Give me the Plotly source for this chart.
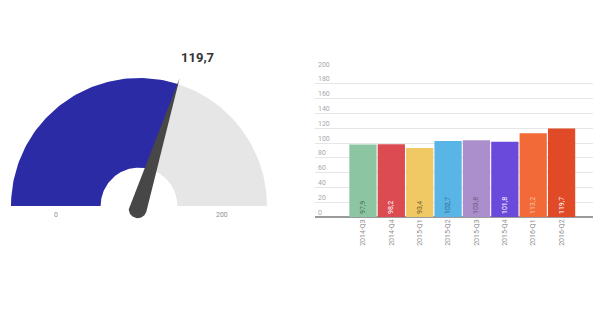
import math
import plotly.graph_objects as go

# ---- data ----
quarters = ["2014-Q3", "2014-Q4", "2015-Q1", "2015-Q2", "2015-Q3", "2015-Q4", "2016-Q1", "2016-Q2"]
values = [97.9, 98.2, 93.4, 102.7, 103.8, 101.8, 113.2, 119.7]
bar_colors = ["#8cc5a2", "#dc4a52", "#f1c964", "#58b5e6", "#ab8fcc", "#6a4adb", "#f26a37", "#e04a27"]
label_colors = ["#4f6e5a", "#ffffff", "#6b5a2a", "#2f6a8c", "#6b5a80", "#ffffff", "#f8c0a8", "#ffffff"]
y_ticks = [0, 20, 40, 60, 80, 100, 120, 140, 160, 180, 200]
gauge_value = 119.7
gauge_min, gauge_max = 0, 200

def fmt(v):
    return f"{v:.1f}".replace(".", ",")

fig = go.Figure()

# ---- gauge (cartesian, unit radius) ----
r_in, r_out = 0.30, 1.0
frac = (gauge_value - gauge_min) / (gauge_max - gauge_min)
ang_v = math.pi * (1 - frac)

def ring(a0, a1, n=80):
    xs, ys = [], []
    for i in range(n + 1):
        a = a0 + (a1 - a0) * i / n
        xs.append(r_out * math.cos(a)); ys.append(r_out * math.sin(a))
    for i in range(n + 1):
        a = a1 + (a0 - a1) * i / n
        xs.append(r_in * math.cos(a)); ys.append(r_in * math.sin(a))
    return xs, ys

gx, gy = ring(0, ang_v)
fig.add_trace(go.Scatter(x=gx, y=gy, fill="toself", fillcolor="#e6e6e6", mode="lines",
                         line=dict(width=0, color="#e6e6e6"), xaxis="x2", yaxis="y2",
                         hoverinfo="skip", showlegend=False))
bx, by = ring(ang_v, math.pi)
fig.add_trace(go.Scatter(x=bx, y=by, fill="toself", fillcolor="#2b2ba6", mode="lines",
                         line=dict(width=0, color="#2b2ba6"), xaxis="x2", yaxis="y2",
                         hoverinfo="skip", showlegend=False))

# needle
tip_r = 1.075
cx, cy = -0.01, -0.025
br = 0.07
nx = [cx + tip_r * math.cos(ang_v)]
ny = [cy + tip_r * math.sin(ang_v)]
for i in range(41):
    a = ang_v + math.pi / 2 + math.pi * i / 40
    nx.append(cx + br * math.cos(a)); ny.append(cy + br * math.sin(a))
nx.append(nx[0]); ny.append(ny[0])
fig.add_trace(go.Scatter(x=nx, y=ny, fill="toself", fillcolor="#474747", mode="lines",
                         line=dict(width=0, color="#474747"), xaxis="x2", yaxis="y2",
                         hoverinfo="skip", showlegend=False))

# ---- bar chart ----
fig.add_trace(go.Bar(
    x=quarters, y=values, marker=dict(color=bar_colors, line=dict(width=0)),
    text=[fmt(v) for v in values], textposition="inside", insidetextanchor="start",
    textangle=-90, textfont=dict(size=7, color=label_colors, family="Roboto"),
    hoverinfo="skip", showlegend=False, cliponaxis=False,
))

fig.update_layout(
    width=600, height=325, margin=dict(l=0, r=0, t=0, b=0, autoexpand=False),
    paper_bgcolor="white", plot_bgcolor="white",
    bargap=0.04,
    font=dict(family="Roboto", color="#999999"),
    xaxis=dict(domain=[0.525, 0.988], range=[-1.69, 8.1], tickangle=-90, automargin=False,
               tickfont=dict(size=7, color="#8f8f8f"), showgrid=False, ticks="",
               showline=False, zeroline=False, fixedrange=True),
    yaxis=dict(domain=[1 - 217 / 325, 1 - 69 / 325], range=[0, 200], tickvals=y_ticks,
               ticklabelposition="inside top", ticklabeloverflow="allow", automargin=False,
               tickfont=dict(size=7, color="#a8a8a8"),
               showgrid=True, gridcolor="#e6e6e6", gridwidth=1, zeroline=True,
               zerolinecolor="#9a9a9a", zerolinewidth=1.5, ticks="", fixedrange=True),
    xaxis2=dict(domain=[0, 0.47], range=[-139 / 128, (282 - 139) / 128], visible=False,
                anchor="y2", fixedrange=True, automargin=False),
    yaxis2=dict(domain=[0, 1], range=[-(325 - 206) / 128, 206 / 128], visible=False,
                anchor="x2", fixedrange=True, automargin=False),
)

# gauge labels
fig.add_annotation(x=-(r_in + r_out) / 2, y=-0.02, text=str(gauge_min), xref="x2", yref="y2",
                   showarrow=False, yanchor="top", font=dict(size=7, color="#8f8f8f"))
fig.add_annotation(x=(r_in + r_out) / 2, y=-0.02, text=str(gauge_max), xref="x2", yref="y2",
                   showarrow=False, yanchor="top", font=dict(size=7, color="#8f8f8f"))
fig.add_annotation(x=1.08 * math.cos(ang_v) - 0.02, y=1.08 * math.sin(ang_v) + 0.06,
                   text="<b>" + fmt(gauge_value) + "</b>", xref="x2", yref="y2",
                   showarrow=False, xanchor="left", yanchor="bottom",
                   font=dict(size=13, color="#333333", family="Roboto"))

fig.write_html("out.html")
